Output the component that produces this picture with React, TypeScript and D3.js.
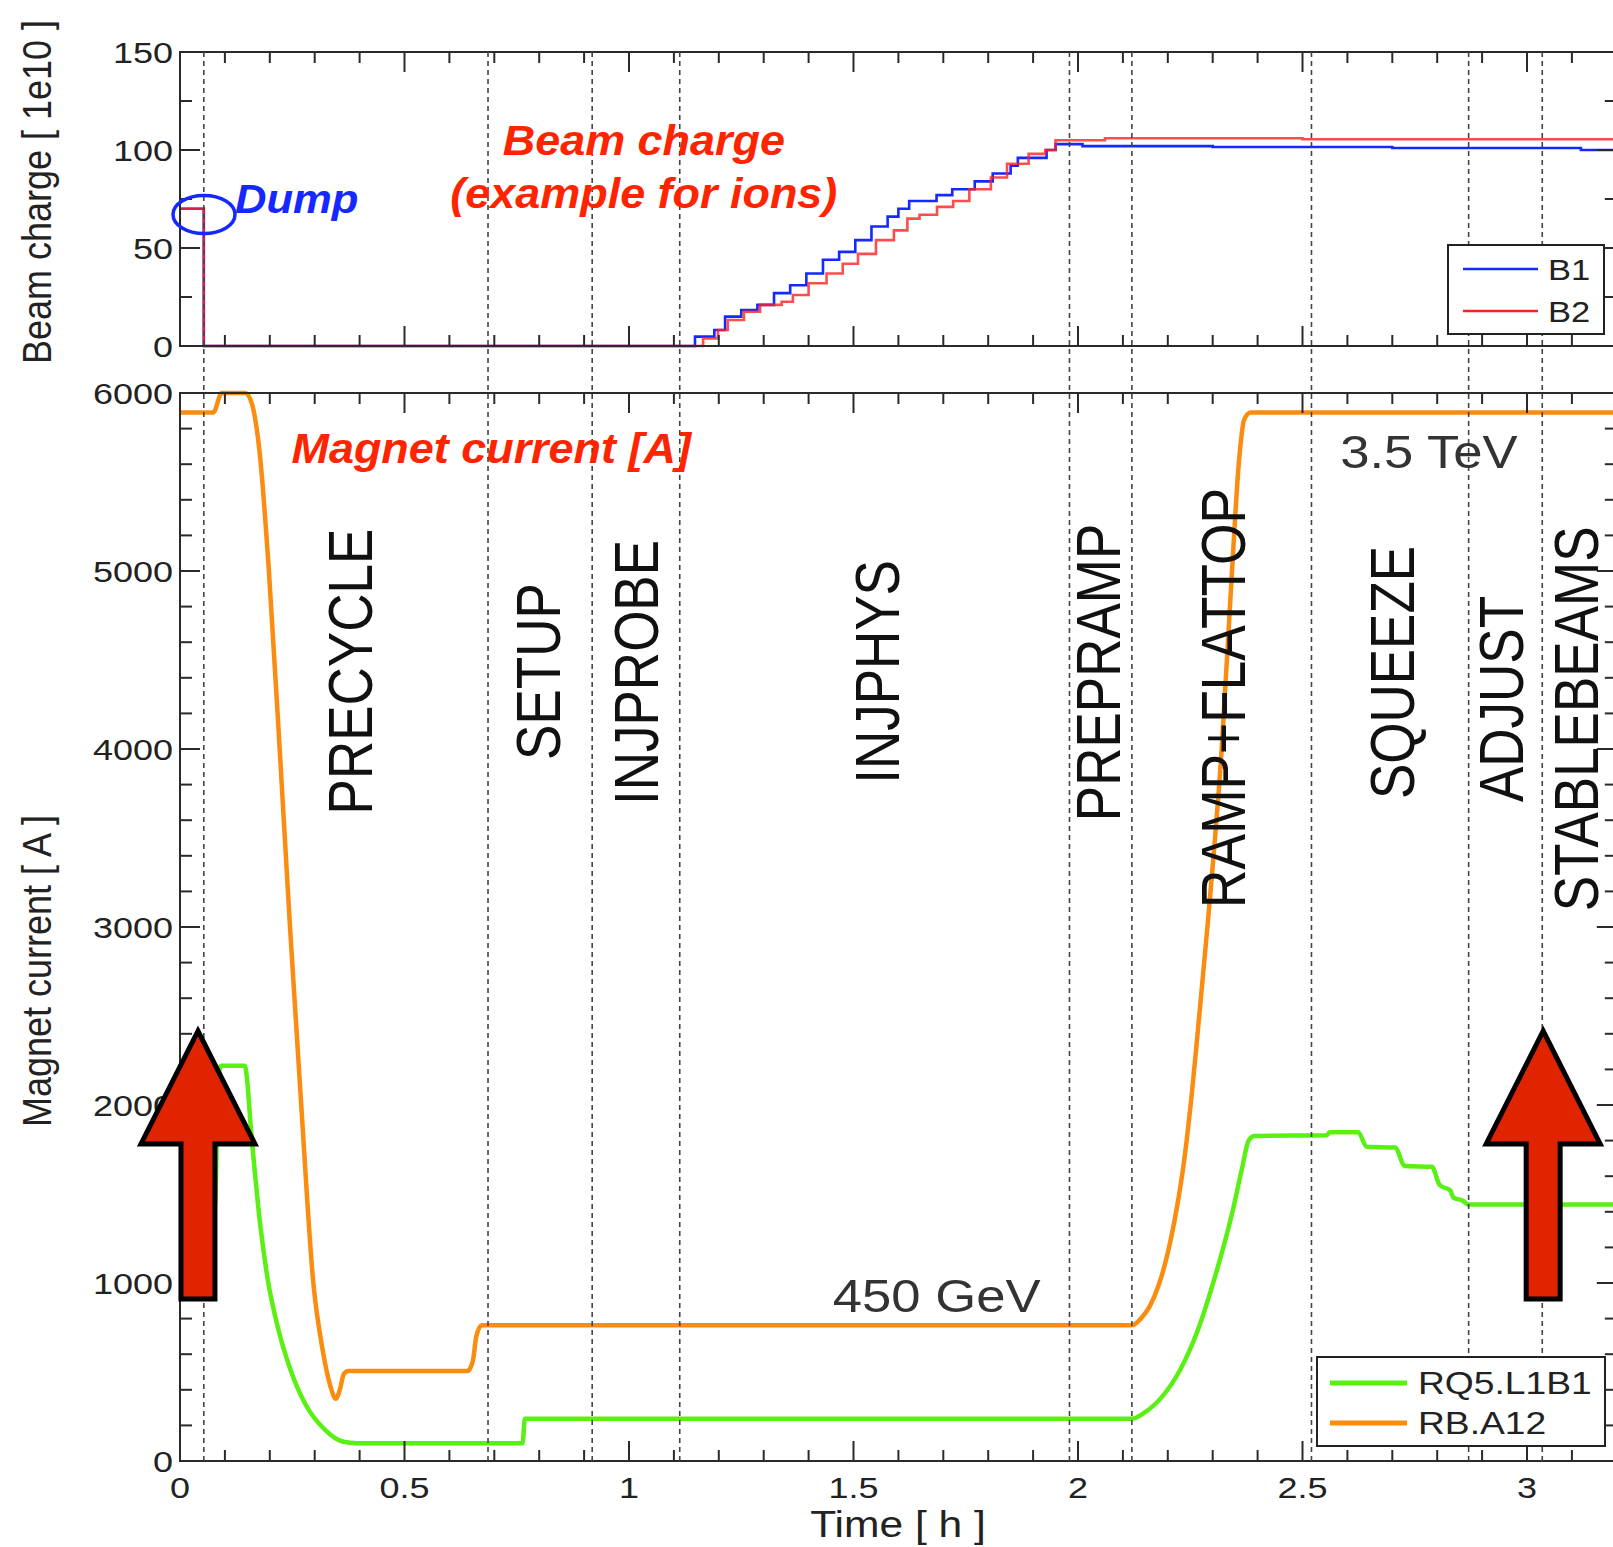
import React from 'react';
import * as d3 from 'd3';

const W = 1613;
const H = 1547;
const FONT = "'Liberation Sans', Arial, Helvetica, sans-serif";

// ---- data ----
const phaseBoundaries = [0.053, 0.686, 0.918, 1.113, 1.981, 2.12, 2.52, 2.87, 3.034];

// Beam charge [1e10], step data (time h, charge)
const b1Charge: [number, number][] = [
  [0, 70], [0.053, 0], [1.147, 4.8], [1.19, 8.2], [1.214, 15], [1.25, 18.4], [1.286, 21],
  [1.323, 27], [1.359, 31], [1.395, 37], [1.432, 44], [1.468, 48], [1.504, 54], [1.54, 61],
  [1.576, 66], [1.6, 70], [1.624, 74], [1.685, 77], [1.72, 80], [1.77, 84], [1.81, 88],
  [1.85, 92], [1.866, 96], [1.93, 100], [1.95, 103], [2.01, 102], [2.3, 101.5], [2.7, 101],
  [3.12, 100], [3.2, 100],
];
const b2Charge: [number, number][] = [
  [0, 70], [0.053, 0], [1.165, 3.9], [1.198, 8.2], [1.22, 13.3], [1.256, 17.5], [1.292, 21],
  [1.34, 22.6], [1.365, 26], [1.4, 32], [1.44, 37], [1.476, 42], [1.51, 47], [1.55, 54],
  [1.59, 59], [1.62, 65], [1.647, 67], [1.686, 71], [1.722, 74], [1.758, 80], [1.806, 86],
  [1.842, 93], [1.89, 98], [1.927, 100], [1.95, 105], [2.06, 106], [2.5, 105.5], [3.2, 105],
];

// Magnet currents [A]
const rq5Current: [number, number][] = [
  [0, 1440], [0.078, 1440], [0.085, 2150], [0.092, 2220], [0.144, 2220], [0.161, 1775],
  [0.178, 1341], [0.195, 1026], [0.22, 730], [0.246, 513], [0.28, 316], [0.322, 178],
  [0.364, 108], [0.394, 100], [0.763, 100], [0.768, 238], [2.12, 238], [2.147, 270],
  [2.187, 360], [2.227, 510], [2.267, 736], [2.305, 1034], [2.345, 1410], [2.365, 1640],
  [2.38, 1800], [2.392, 1826], [2.554, 1830], [2.561, 1847], [2.624, 1847], [2.643, 1765],
  [2.706, 1761], [2.728, 1657], [2.788, 1653], [2.806, 1549], [2.829, 1520], [2.836, 1480],
  [2.858, 1461], [2.869, 1441], [3.2, 1441],
];
const rbCurrent: [number, number][] = [
  [0, 5890], [0.074, 5890], [0.093, 6000], [0.145, 6000], [0.16, 5940], [0.178, 5650],
  [0.198, 5000], [0.222, 4000], [0.245, 3000], [0.27, 2000], [0.297, 1000], [0.318, 620],
  [0.335, 420], [0.347, 350], [0.356, 400], [0.365, 490], [0.375, 505], [0.64, 505],
  [0.652, 560], [0.66, 700], [0.672, 762], [2.12, 762], [2.14, 800], [2.16, 870],
  [2.18, 990], [2.2, 1170], [2.22, 1420], [2.235, 1660], [2.25, 1980], [2.27, 2500],
  [2.29, 3050], [2.32, 4000], [2.343, 5000], [2.358, 5600], [2.37, 5850], [2.385, 5890],
  [3.2, 5890],
];

const xTickLabels = [0, 0.5, 1, 1.5, 2, 2.5, 3];
const topYTicks = [0, 50, 100, 150];
const botYTicks = [0, 1000, 2000, 3000, 4000, 5000, 6000];

const phaseLabels = [
  { name: 'PRECYCLE', t: 0.3775, v: 4435 },
  { name: 'SETUP', t: 0.794, v: 4435 },
  { name: 'INJPROBE', t: 1.013, v: 4430 },
  { name: 'INJPHYS', t: 1.55, v: 4433 },
  { name: 'PREPRAMP', t: 2.042, v: 4430 },
  { name: 'RAMP+FLATTOP', t: 2.321, v: 4287 },
  { name: 'SQUEEZE', t: 2.698, v: 4430 },
  { name: 'ADJUST', t: 2.939, v: 4281 },
  { name: 'STABLEBEAMS', t: 3.107, v: 4169 },
];

const arrowTimes = [0.04, 3.036];
const arrowTip = 2416;
const arrowBase = 1781;
const arrowBottom = 910;

const dumpMark = { t: 0.0535, v: 67.1 };

// ---- scales ----
const x = d3.scaleLinear().domain([0, 3.2]).range([180, 1616.8]);
const yTop = d3.scaleLinear().domain([0, 150]).range([346, 52]);
const yBot = d3.scaleLinear().domain([0, 6000]).range([1461, 393]);

const lineTop = d3.line<[number, number]>().x(d => x(d[0])).y(d => yTop(d[1])).curve(d3.curveStepAfter);
const lineBot = d3.line<[number, number]>().x(d => x(d[0])).y(d => yBot(d[1])).curve(d3.curveMonotoneX);

function Txt(props: any) {
  const { x: tx, y: ty, sx = 1.15, rot = false, size, anchor = 'start', fill = '#222', weight = 'normal', italic = false, children, textLength } = props;
  return (
    <text
      transform={`translate(${tx},${ty}) scale(${sx},1)${rot ? ' rotate(-90)' : ''}`}
      fontSize={size}
      fontFamily={FONT}
      textAnchor={anchor}
      fill={fill}
      fontWeight={weight}
      fontStyle={italic ? 'italic' : 'normal'}
      textLength={textLength}
      lengthAdjust={textLength ? 'spacingAndGlyphs' : undefined}
    >
      {children}
    </text>
  );
}

function PanelFrame({ yScale, majorStep, minorStep }: any) {
  const [y0, y1] = yScale.domain();
  const yb = yScale(y0);
  const yt = yScale(y1);
  const x0 = x(0);
  const x1 = x(3.2);
  const els: any[] = [];
  const xt = d3.range(0, 3.2001, 0.1);
  xt.forEach((t, i) => {
    const major = Math.abs(t * 2 - Math.round(t * 2)) < 1e-6;
    const len = major ? 20 : 11;
    const px = x(t);
    els.push(<line key={'xb' + i} x1={px} x2={px} y1={yb} y2={yb - len} />);
    els.push(<line key={'xt' + i} x1={px} x2={px} y1={yt} y2={yt + len} />);
  });
  const yt2 = d3.range(y0, y1 + 1e-6, minorStep);
  yt2.forEach((v, i) => {
    const major = Math.abs(v / majorStep - Math.round(v / majorStep)) < 1e-6;
    const len = major ? 20 : 12;
    const py = yScale(v);
    els.push(<line key={'yl' + i} x1={x0} x2={x0 + len} y1={py} y2={py} />);
    els.push(<line key={'yr' + i} x1={x1} x2={x1 - len} y1={py} y2={py} />);
  });
  return (
    <g stroke="#2a2a2a" strokeWidth={2} fill="none">
      {els}
      <rect x={x0} y={yt} width={x1 - x0} height={yb - yt} />
    </g>
  );
}

function Arrow({ t }: { t: number }) {
  const cx = x(t);
  const tip = yBot(arrowTip);
  const base = yBot(arrowBase);
  const bottom = yBot(arrowBottom);
  const hw = 57;
  const sw = 17;
  const pts = [
    [cx, tip], [cx + hw, base], [cx + sw, base], [cx + sw, bottom],
    [cx - sw, bottom], [cx - sw, base], [cx - hw, base],
  ];
  return (
    <polygon
      points={pts.map(p => p.join(',')).join(' ')}
      fill="#e02400"
      stroke="#000"
      strokeWidth={5}
      strokeLinejoin="miter"
    />
  );
}

export default function App() {
  const capHalf = 23;
  return (
    <svg width={W} height={H} style={{ position: 'absolute', left: 0, top: 0, background: '#fff' }}>
      <rect x={0} y={0} width={W} height={H} fill="#fff" />

      {/* curves */}
      <path d={lineTop(b1Charge) || ''} fill="none" stroke="#1428ff" strokeWidth={2.6} />
      <path d={lineTop(b2Charge) || ''} fill="none" stroke="#ff2020" strokeWidth={2.6} strokeOpacity={0.8} />
      <path d={lineBot(rq5Current) || ''} fill="none" stroke="#5af014" strokeWidth={4.5} />
      <path d={lineBot(rbCurrent) || ''} fill="none" stroke="#fa8c0f" strokeWidth={4.5} />

      {/* frames and ticks */}
      <PanelFrame yScale={yTop} majorStep={50} minorStep={25} />
      <PanelFrame yScale={yBot} majorStep={1000} minorStep={200} />

      {/* phase boundaries */}
      <g stroke="#444" strokeWidth={1.6} strokeDasharray="5,4">
        {phaseBoundaries.map((t, i) => (
          <line key={i} x1={x(t)} x2={x(t)} y1={yTop(150)} y2={yBot(0)} />
        ))}
      </g>

      {/* tick labels */}
      {topYTicks.map(v => (
        <Txt key={'ty' + v} x={173} y={yTop(v) + 11} size={30} sx={1.2} anchor="end">{v}</Txt>
      ))}
      {botYTicks.map(v => (
        <Txt key={'by' + v} x={173} y={yBot(v) + 11} size={30} sx={1.2} anchor="end">{v}</Txt>
      ))}
      {xTickLabels.map(v => (
        <Txt key={'bx' + v} x={x(v)} y={1498} size={30} sx={1.2} anchor="middle">{v}</Txt>
      ))}

      {/* axis titles */}
      <Txt x={51} y={192} size={36} rot anchor="middle">Beam charge [ 1e10 ]</Txt>
      <Txt x={51} y={971} size={36} rot anchor="middle">Magnet current [ A ]</Txt>
      <Txt x={898} y={1537} size={37} anchor="middle">Time [ h ]</Txt>

      {/* legends */}
      <g>
        <rect x={1448} y={245} width={156} height={89} fill="#fff" stroke="#222" strokeWidth={2} />
        <line x1={1463} x2={1538} y1={269} y2={269} stroke="#1428ff" strokeWidth={2.6} />
        <line x1={1463} x2={1538} y1={311} y2={311} stroke="#ff2020" strokeWidth={2.6} />
        <Txt x={1548} y={280} size={30} sx={1.15}>B1</Txt>
        <Txt x={1548} y={322} size={30} sx={1.15}>B2</Txt>
      </g>
      <g>
        <rect x={1317} y={1357} width={288} height={89} fill="#fff" stroke="#222" strokeWidth={2} />
        <line x1={1330} x2={1407} y1={1383} y2={1383} stroke="#5af014" strokeWidth={5} />
        <line x1={1330} x2={1407} y1={1423} y2={1423} stroke="#fa8c0f" strokeWidth={5} />
        <Txt x={1418} y={1394} size={31} sx={1.2}>RQ5.L1B1</Txt>
        <Txt x={1418} y={1434} size={31} sx={1.2}>RB.A12</Txt>
      </g>

      {/* phase labels */}
      {phaseLabels.map(p => (
        <Txt key={p.name} x={x(p.t) + capHalf} y={yBot(p.v)} size={53} sx={1.2} rot anchor="middle" fill="#111"
          textLength={p.name === 'RAMP+FLATTOP' ? 420 : undefined}>
          {p.name}
        </Txt>
      ))}

      {/* energy annotations */}
      <Txt x={x(1.454)} y={yBot(837)} size={47} sx={1.12} fill="#333">450 GeV</Txt>
      <Txt x={x(2.584)} y={yBot(5579)} size={47} sx={1.12} fill="#333">3.5 TeV</Txt>

      {/* red annotations */}
      <Txt x={x(0.693)} y={yBot(5607)} size={42} sx={1.07} anchor="middle" fill="#ff2400" weight="bold" italic>Magnet current [A]</Txt>
      <Txt x={x(1.033)} y={yTop(97.4)} size={42} sx={1.07} anchor="middle" fill="#ff2400" weight="bold" italic>Beam charge</Txt>
      <Txt x={x(1.033)} y={yTop(70.4)} size={42} sx={1.07} anchor="middle" fill="#ff2400" weight="bold" italic>(example for ions)</Txt>

      {/* dump */}
      <ellipse cx={x(dumpMark.t)} cy={yTop(dumpMark.v)} rx={31} ry={19} fill="none" stroke="#1428ff" strokeWidth={3.5} />
      <Txt x={x(0.1225)} y={yTop(67.9)} size={40} sx={1.09} fill="#1428ff" weight="bold" italic>Dump</Txt>

      {/* arrows */}
      {arrowTimes.map(t => <Arrow key={t} t={t} />)}
    </svg>
  );
}
